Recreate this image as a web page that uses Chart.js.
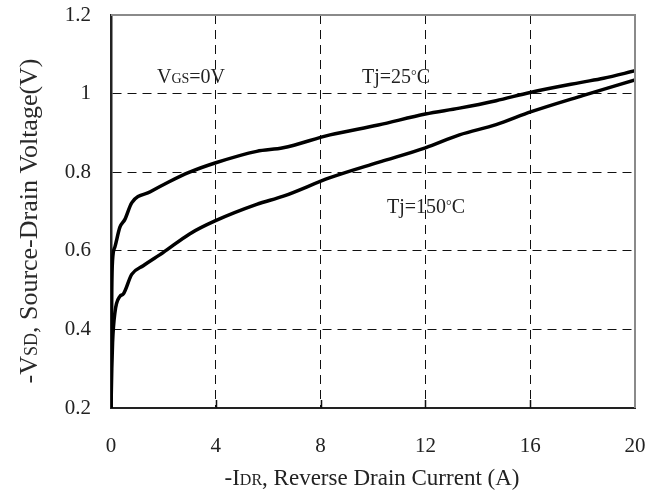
<!DOCTYPE html>
<html>
<head>
<meta charset="utf-8">
<script src="https://cdn.jsdelivr.net/npm/chart.js@4/dist/chart.umd.min.js"></script>
<style>
  body { margin: 0; background: #fff; }
  #wrap { width: 660px; height: 493px; }
</style>
</head>
<body>
<div id="wrap"><canvas id="myChart"></canvas></div>
<script>
// Tj = 25C curve
var current25 = [0, 0.03, 0.06, 0.15, 0.34, 0.53, 0.79, 1.5, 2.2, 3.0, 4.0, 5.56, 6.57, 8.36, 10.2, 12.0, 13.3, 14.7, 16.0, 17.9, 18.8, 20.0];
var vsd25 = [0.2, 0.5, 0.577, 0.61, 0.66, 0.68, 0.722, 0.75, 0.775, 0.80, 0.824, 0.853, 0.862, 0.895, 0.92, 0.948, 0.963, 0.982, 1.003, 1.028, 1.039, 1.058];

// Tj = 150C curve
var current150 = [0, 0.03, 0.06, 0.15, 0.34, 0.47, 0.79, 1.23, 2.0, 3.0, 3.97, 5.56, 6.58, 8.36, 10.2, 12.0, 13.3, 14.7, 16.04, 18.0, 20.0];
var vsd150 = [0.2, 0.3, 0.367, 0.443, 0.484, 0.49, 0.54, 0.562, 0.596, 0.643, 0.676, 0.718, 0.739, 0.786, 0.825, 0.862, 0.895, 0.921, 0.954, 0.995, 1.035];

var xTicks = [0, 4, 8, 12, 16, 20];
var yTicks = [0.2, 0.4, 0.6, 0.8, 1.0, 1.2];

function pts(xs, ys) {
    return xs.map(function (x, i) { return { x: x, y: ys[i] }; });
}

var serif = '"Liberation Serif", "DejaVu Serif", serif';

// frame, tick marks, notes and axis titles with small subscripts
var extras = {
    id: 'extras',
    afterDraw: function (chart) {
        var c = chart.ctx, a = chart.chartArea, sx = chart.scales.x;
        c.save();
        c.strokeStyle = '#8a8a8a';
        c.lineWidth = 2;
        c.beginPath();
        c.moveTo(a.left, a.top);
        c.lineTo(a.right, a.top);
        c.lineTo(a.right, a.bottom);
        c.stroke();

        // short inner tick marks on the bottom axis
        c.strokeStyle = '#111';
        c.lineWidth = 1.5;
        c.beginPath();
        xTicks.slice(1, -1).forEach(function (v) {
            var px = Math.round(sx.getPixelForValue(v)) + 0.5;
            c.moveTo(px, a.bottom);
            c.lineTo(px, a.bottom - 8);
        });
        c.stroke();

        c.fillStyle = '#222';
        c.textBaseline = 'alphabetic';
        function parts(list, x, y) {
            list.forEach(function (p) {
                c.font = p[1] + 'px ' + serif;
                c.fillText(p[0], x, y + (p[2] || 0));
                x += c.measureText(p[0]).width;
            });
        }
        function width(list) {
            var w = 0;
            list.forEach(function (p) {
                c.font = p[1] + 'px ' + serif;
                w += c.measureText(p[0]).width;
            });
            return w;
        }
        parts([['V', 20], ['GS', 14], ['=0V', 20]], 157, 83);
        parts([['Tj=25', 20], ['°', 14, -3], ['C', 20]], 362, 83);
        parts([['Tj=150', 20], ['°', 14, -3], ['C', 20]], 387, 213);

        var xt = [['-I', 23], ['DR', 16], [', Reverse Drain Current (A)', 23]];
        parts(xt, 372 - width(xt) / 2, 485);

        c.fillStyle = '#2a2a2a';
        var yt = [['-V', 26], ['SD', 18], [', Source-Drain Voltage(V)', 26]];
        c.translate(37, 221);
        c.rotate(-Math.PI / 2);
        parts(yt, -width(yt) / 2, 0);
        c.restore();
    }
};

var ctx = document.getElementById('myChart').getContext('2d');
var myChart = new Chart(ctx, {
    type: 'line',
    data: {
        datasets: [{
            label: 'Tj=25C',
            data: pts(current25, vsd25),
            borderColor: '#000',
            borderWidth: 3.5,
            pointRadius: 0,
            tension: 0.3,
            cubicInterpolationMode: 'monotone'
        }, {
            label: 'Tj=150C',
            data: pts(current150, vsd150),
            borderColor: '#000',
            borderWidth: 3.5,
            pointRadius: 0,
            tension: 0.3,
            cubicInterpolationMode: 'monotone'
        }]
    },
    options: {
        responsive: true,
        maintainAspectRatio: false,
        animation: false,
        layout: { padding: { top: 15, right: 25, left: 0, bottom: 0 } },
        plugins: { legend: { display: false }, tooltip: { enabled: false } },
        scales: {
            x: {
                type: 'linear',
                min: 0,
                max: 20,
                afterBuildTicks: function (s) { s.ticks = xTicks.map(function (v) { return { value: v }; }); },
                afterFit: function (s) { s.height = 85; s.paddingLeft = 0; s.paddingRight = 0; },
                grid: { color: '#111', lineWidth: 1, drawTicks: false, tickLength: 0 },
                border: { display: true, color: '#222', width: 2, dash: [9, 6] },
                ticks: { color: '#222', padding: 26, font: { family: serif, size: 21 } }
            },
            y: {
                min: 0.2,
                max: 1.2,
                afterBuildTicks: function (s) { s.ticks = yTicks.map(function (v) { return { value: v }; }); },
                afterFit: function (s) { s.width = 111; s.paddingTop = 0; s.paddingBottom = 0; },
                grid: { color: '#111', lineWidth: 1, drawTicks: false, tickLength: 0 },
                border: { display: true, color: '#222', width: 2.5, dash: [9, 6] },
                ticks: {
                    color: '#222', padding: 20, font: { family: serif, size: 21 },
                    callback: function (v) { return (v === 1) ? '1' : String(Math.round(v * 10) / 10); }
                }
            }
        }
    },
    plugins: [extras]
});
</script>
</body>
</html>
